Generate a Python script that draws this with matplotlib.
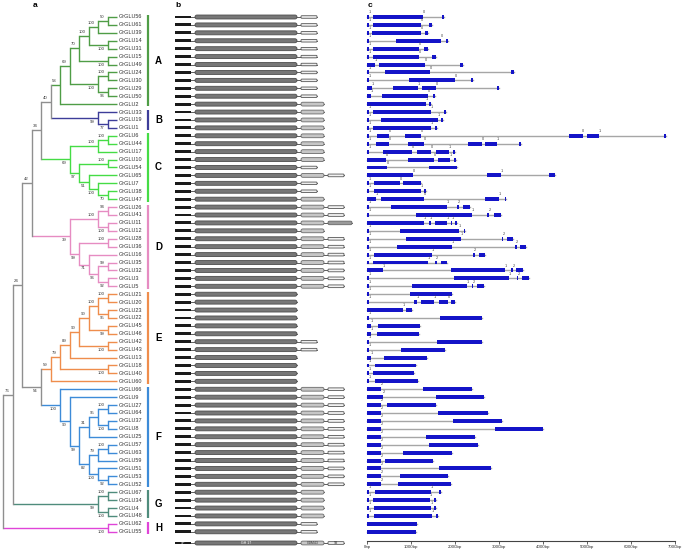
import numpy as np
import matplotlib.pyplot as plt
from matplotlib.patches import FancyBboxPatch, Rectangle

plt.rcParams['font.family'] = ['Liberation Sans Narrow', 'Liberation Sans', 'DejaVu Sans']

# ---------------- data ----------------
# tree: (bootstrap, level from root, label side (1 above / -1 below), left, right)
# leaves are GrGLU numbers
a1 = (50, 11, 1, 56, 61)
a2 = (100, 10, 1, a1, 39)
a3 = (100, 11, -1, 14, 31)
a4 = (100, 9, 1, a2, a3)
a5 = (100, 11, -1, 15, 49)
a6 = (70, 8, 1, a4, a5)
a7 = (100, 11, 1, 24, 30)
a8 = (96, 11, -1, 29, 50)
a9 = (100, 10, -1, a7, a8)
a10 = (69, 7, 1, a6, a9)
cladeA = (58, 6, 1, a10, 2)
cladeB = (99, 10, -1, 33, (77, 11, -1, 19, 1))
AB = (40, 5, 1, cladeA, cladeB)
c2 = (100, 10, 1, (100, 11, 1, 6, 44), 17)
c5 = (100, 10, -1, 7, (70, 11, -1, 38, 47))
c7 = (97, 8, -1, (100, 11, 1, 10, 54), (51, 9, -1, 65, c5))
cladeC = (69, 7, -1, c2, c7)
ABC = (34, 4, 1, AB, cladeC)
d3 = (100, 10, 1, (94, 11, 1, 26, 41), (100, 11, -1, 11, 12))
d7 = (96, 10, -1, (99, 11, 1, 35, 32), (92, 11, -1, 3, 5))
d8 = (71, 9, -1, 16, d7)
d9 = (99, 8, -1, (100, 11, 1, 28, 36), d8)
cladeD = (39, 7, -1, d3, d9)
ABCD = (42, 3, 1, ABC, cladeD)
e3 = (100, 10, 1, (100, 11, 1, 21, 20), (95, 11, -1, 23, 22))
e5 = (90, 9, 1, e3, (99, 11, -1, 45, 46))
e7 = (90, 8, 1, e5, (100, 11, -1, 42, 43))
e8 = (89, 7, 1, e7, 13)
e10 = (79, 6, 1, e8, (100, 11, -1, 18, 40))
cladeE = (59, 5, 1, e10, 60)
f3 = (95, 10, 1, (100, 11, 1, 27, 64), (100, 11, -1, 37, 8))
f4 = (31, 9, 1, f3, 25)
f6 = (79, 10, 1, (100, 11, 1, 57, 63), 59)
f8 = (100, 10, -1, 51, (92, 11, -1, 53, 52))
f9 = (82, 9, -1, f6, f8)
f10 = (99, 8, -1, f4, f9)
f11 = (90, 7, -1, 9, f10)
cladeF = (100, 6, -1, 66, f11)
EF = (54, 4, -1, cladeE, cladeF)
ABCDEF = (24, 2, 1, ABCD, EF)
cladeG = (99, 10, -1, (100, 11, 1, 67, 34), (100, 11, -1, 4, 48))
ABCDEFG = (76, 1, 1, ABCDEF, cladeG)
cladeH = (100, 11, -1, 62, 55)
tree = (None, 0, 1, ABCDEFG, cladeH)

clade_names = ['A', 'B', 'C', 'D', 'E', 'F', 'G', 'H']
clade_sizes = [12, 3, 9, 11, 12, 13, 4, 2]
clade_colors = ['#4f9d46', '#3d3d99', '#45dc45', '#e68cc2', '#ef8d4c', '#3d8bd8', '#4f8c7c', '#e044d8']

# protein domains per row: s = short C-term box, c = CBM43, t = TM, g = long grey box
domains = (['s'] * 11 + ['c'] * 8 + ['s', 'ct', 's', 's', 'c', 'ct', 'ct', 'cg', 'c']
           + ['ct'] * 7 + [''] * 6 + ['s', 's'] + [''] * 4 + ['ct'] * 13 + ['c'] * 4 + ['s', 's'])

# gene structures (bp) in row order
exons = [
    [(0, 45), (136, 1258), (1697, 1743)],
    [(0, 45), (121, 1220), (1410, 1470)],
    [(0, 45), (106, 1220), (1318, 1372)],
    [(0, 45), (652, 1675), (1789, 1834)],
    [(0, 45), (136, 1175), (1280, 1372)],
    [(0, 45), (121, 1175), (1478, 1561)],
    [(0, 167), (265, 1318), (2100, 2168)],
    [(0, 45), (402, 1425), (3275, 3328)],
    [(0, 45), (955, 1993), (2365, 2410)],
    [(0, 106), (591, 1152), (1243, 1561), (2956, 3002)],
    [(0, 91), (334, 1372), (1493, 1546)],
    [(0, 1334), (1395, 1440)],
    [(0, 45), (136, 1448), (1743, 1789)],
    [(0, 45), (303, 1614), (1675, 1720)],
    [(0, 45), (136, 1448), (1531, 1576)],
    [(0, 45), (212, 500), (856, 1213), (4586, 4897), (4988, 5261), (6746, 6792)],
    [(0, 45), (197, 500), (932, 1296), (2281, 2600), (2676, 2941), (3457, 3502)],
    [(0, 45), (349, 1016), (1122, 1455), (1561, 1864), (1955, 2000)],
    [(0, 424), (932, 1516), (1599, 1879), (1978, 2016)],
    [(0, 440), (1410, 2046)],
    [(0, 1046), (2728, 3047), (4123, 4275)],
    [(0, 45), (152, 750), (819, 1220)],
    [(0, 45), (152, 1213), (1289, 1334)],
    [(0, 197), (303, 1288), (2683, 2987), (3123, 3153)],
    [(0, 45), (530, 1804), (2039, 2070), (2183, 2334)],
    [(0, 45), (1107, 2380), (2728, 2760), (2880, 3032)],
    [(0, 1296), (1402, 1433), (1546, 1804), (1895, 1925), (2001, 2031)],
    [(0, 45), (742, 2084), (2190, 2221)],
    [(0, 45), (879, 2122), (3055, 3085), (3169, 3305)],
    [(0, 45), (667, 1925), (3358, 3388), (3472, 3600)],
    [(0, 45), (152, 1463), (2403, 2433), (2532, 2683)],
    [(0, 45), (136, 1387), (1539, 1569), (1675, 1819)],
    [(0, 349), (1895, 3131), (3275, 3305), (3388, 3540)],
    [(0, 45), (1971, 3214), (3396, 3426), (3517, 3669)],
    [(0, 45), (1023, 2266), (2373, 2403), (2501, 2645)],
    [(0, 45), (970, 1918)],
    [(0, 45), (1061, 1122), (1220, 1516), (1622, 1827), (1910, 1986)],
    [(0, 819), (879, 1023)],
    [(0, 45), (1660, 2608)],
    [(0, 91), (250, 1198)],
    [(0, 91), (227, 1175)],
    [(0, 45), (1592, 2600)],
    [(0, 45), (765, 1766)],
    [(0, 76), (387, 1349)],
    [(0, 45), (174, 1114)],
    [(0, 45), (121, 1069)],
    [(0, 45), (182, 1152)],
    [(0, 318), (1266, 2373)],
    [(0, 364), (1554, 2645)],
    [(0, 318), (440, 1569)],
    [(0, 318), (1614, 2744)],
    [(0, 318), (1940, 3070)],
    [(0, 318), (2895, 4002)],
    [(0, 318), (1334, 2456)],
    [(0, 318), (1410, 2509)],
    [(0, 318), (811, 1918)],
    [(0, 303), (409, 1501)],
    [(0, 318), (1630, 2805)],
    [(0, 318), (750, 1827)],
    [(0, 318), (690, 1895)],
    [(0, 45), (167, 1455), (1637, 1675)],
    [(0, 45), (121, 1425), (1516, 1554)],
    [(0, 45), (144, 1440), (1516, 1554)],
    [(0, 45), (152, 1463), (1561, 1599)],
    [(0, 1137)],
    [(0, 1107)],
]
phases = ([[1, 0]] * 9 + [[1, 1, 0], [1, 0], [1], [1, 1], [1, 1], [1, 1],
          [1, 0, 0, 0, 1], [1, 0, 0, 0, 1], [1, 0, 0, 1], [0, 0, 1], [0], [0, 1], [1, 0], [1, 1], [1, 0, 1],
          [1, 1, 2], [1, 1, 2], [1, 1, 1, 1], [1, 1]] + [[1, 1, 2]] * 7
          + [[1], [1, 1, 1, 0]] + [[1]] * 10 + [[2]] * 13 + [[1, 1]] * 4 + [[], []])
bp_ticks = [0, 1000, 2000, 3000, 4000, 5000, 6000, 7000]

# ---------------- layout helpers ----------------
W, H = 685, 550
row0, drow = 17, 7.92          # pixel y of first row and row spacing
ylim = ((H - row0) / drow, -row0 / drow)


def leaves_of(n):
    if isinstance(n, int):
        return [n]
    return leaves_of(n[3]) + leaves_of(n[4])


order = leaves_of(tree)
row_of = {g: i for i, g in enumerate(order)}
clade_of = {}
start = 0
for ci, size in enumerate(clade_sizes):
    for g in order[start:start + size]:
        clade_of[g] = ci
    start += size

fig = plt.figure(figsize=(W / 100, H / 100), dpi=100)

# ---------------- a: tree ----------------
lvl_px = 9.5
axa = fig.add_axes([0, 0, 170 / W, 1])
axa.set_xlim(-3 / lvl_px, 167 / lvl_px)
axa.set_ylim(*ylim)
axa.axis('off')
backbone = '#8f8f8f'
lw = 1.0


def color_for(gs):
    cs = {clade_of[g] for g in gs}
    return clade_colors[cs.pop()] if len(cs) == 1 else backbone


def draw(n):
    if isinstance(n, int):
        return row_of[n], 12
    b, lv, side, l, r = n
    ys = []
    for ch in (l, r):
        y, x = draw(ch)
        axa.plot([lv, x], [y, y], color=color_for(leaves_of(ch)), lw=lw, solid_capstyle='butt')
        ys.append(y)
    axa.plot([lv, lv], ys, color=color_for(leaves_of(n)), lw=lw, solid_capstyle='projecting')
    y = np.mean(ys)
    if b is not None:
        axa.text(lv - 0.35, y - 0.5 * side, str(b), fontsize=3.1, ha='right', va='center', color='#333333')
    return y, lv


draw(tree)
for g in order:
    axa.text(12.2, row_of[g], f'GrGLU{g}', fontsize=4.0, va='center', ha='left', color='#333333')

start = 0
for name, size, col in zip(clade_names, clade_sizes, clade_colors):
    y0, y1 = start - 0.3, start + size - 1 + 0.3
    axa.plot([145 / lvl_px, 145 / lvl_px], [y0, y1], color=col, lw=1.6, solid_capstyle='butt')
    axa.text(152 / lvl_px, (y0 + y1) / 2, name, fontsize=7, fontweight='bold',
             family=['Liberation Sans', 'DejaVu Sans'], va='center', ha='left')
    start += size
axa.text(30 / lvl_px, -1.5, 'a', fontsize=6, fontweight='bold', family=['Liberation Sans'], va='center')

# ---------------- b: domains ----------------
axb = fig.add_axes([160 / W, 0, 200 / W, 1])
axb.set_xlim(160, 360)
axb.set_ylim(*ylim)
axb.axis('off')
asp = 1 / drow


def box(x0, x1, y, h, fc, ec, r=1.5, z=3):
    p = FancyBboxPatch((x0, y - h / 2), x1 - x0, h, boxstyle=f'round,pad=0,rounding_size={r}',
                       mutation_aspect=asp, fc=fc, ec=ec, lw=0.6, zorder=z)
    axb.add_patch(p)


def protein(y, kind):
    end = 297
    if 's' in kind:
        box(301, 317, y, 0.32, '#eeeeee', '#555555', r=0.8)
        end = 317
    if 'c' in kind:
        box(301, 324, y, 0.48, '#c6c6c6', '#6a6a6a', r=1.8)
        end = 324
    if 't' in kind:
        box(328, 344, y, 0.34, '#f2f2f2', '#555555', r=0.8)
        end = 344
    if 'g' in kind:
        box(328, 352, y, 0.45, '#9a9a9a', '#666666', r=1.5)
        end = 352
    axb.plot([175, end], [y, y], color='#444444', lw=0.6, zorder=1)
    axb.add_patch(Rectangle((175, y - 0.18), 16, 0.36, fc='#1a1a1a', ec='none', zorder=3))
    box(195, 297, y, 0.5, '#777777', '#4d4d4d', r=2.0)


for i, kind in enumerate(domains):
    protein(i, kind)
ly = (543 - row0) / drow
protein(ly, 'ct')
axb.text(183, ly, 'SP', fontsize=2.4, color='white', ha='center', va='center', zorder=5)
axb.text(246, ly, 'GH 17', fontsize=2.6, color='white', ha='center', va='center', zorder=5)
axb.text(312.5, ly, 'CBM43', fontsize=2.6, color='#333333', ha='center', va='center', zorder=5)
axb.text(336, ly, 'TM', fontsize=2.2, color='#333333', ha='center', va='center', zorder=5)
axb.text(175, -1.5, 'b', fontsize=6, fontweight='bold', family=['Liberation Sans'], va='center')

# ---------------- c: gene structures ----------------
px_per_bp = (675 - 367.3) / 7000
axc = fig.add_axes([360 / W, 0, 325 / W, 1])
axc.set_xlim(-7.3 / px_per_bp, (W - 367.3) / px_per_bp)
axc.set_ylim(*ylim)
for s in ['top', 'right', 'left']:
    axc.spines[s].set_visible(False)
axc.spines['bottom'].set_position(('data', (541 - row0) / drow))
axc.spines['bottom'].set_bounds(0, 7000)
axc.spines['bottom'].set_linewidth(0.8)
axc.spines['bottom'].set_color('#444444')
axc.set_yticks([])
axc.set_xticks(bp_ticks)
axc.set_xticklabels([f'{v}bp' for v in bp_ticks], fontsize=3.2, color='#333333')
axc.tick_params(axis='x', length=2, width=0.6, pad=1, color='#444444')

eh = 0.5
for i, (ex, ph) in enumerate(zip(exons, phases)):
    axc.plot([ex[0][0], ex[-1][1]], [i, i], color='#a6a6a6', lw=1.0, zorder=1)
    for s, e in ex:
        axc.add_patch(Rectangle((s, i - eh / 2), max(e - s, 40), eh, fc='#1414c8', ec='none', zorder=2))
    for (s, e), p in zip(ex[:-1], ph):
        axc.text(e + 20, i - 0.6, str(p), fontsize=2.8, ha='center', va='center', color='#444444')
axc.text(0, -1.5, 'c', fontsize=6, fontweight='bold', family=['Liberation Sans'], va='center')

fig.savefig('out.png', dpi=100, facecolor='white')
